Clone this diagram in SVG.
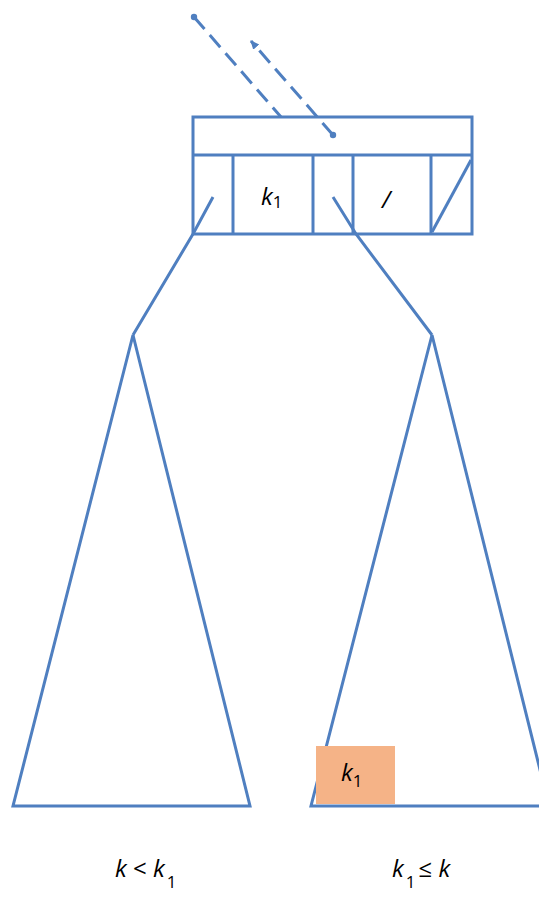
<svg xmlns="http://www.w3.org/2000/svg" width="539" height="900" viewBox="0 0 539 900">
<style>
.ln{fill:none;stroke:#4F7FC0;stroke-width:3;stroke-linejoin:miter}
.ds{fill:none;stroke:#4F7FC0;stroke-width:3;stroke-dasharray:16 8}
.t{font-family:"Open Sans","Liberation Sans",sans-serif;font-size:24px;fill:#000}
.i{font-style:italic}
.s{font-size:17px}
</style>
<defs>
<marker id="dot" markerWidth="8" markerHeight="8" refX="4" refY="4" markerUnits="userSpaceOnUse"><circle cx="4" cy="4" r="3.2" fill="#4F7FC0"/></marker>
<marker id="arr" markerWidth="10" markerHeight="10" refX="8" refY="5" orient="auto" markerUnits="userSpaceOnUse"><path d="M0,1 L9,5 L0,9 Z" fill="#4F7FC0"/></marker>
</defs>
<g id="connectors">
<line class="ds" x1="194" y1="17" x2="281" y2="117" marker-start="url(#dot)"/>
<line class="ds" x1="333" y1="135" x2="251" y2="41" marker-start="url(#dot)" marker-end="url(#arr)"/>
<polyline class="ln" points="213,197 193,234 133,335"/>
<polyline class="ln" points="333,197 356,234 432,335"/>
</g>
<g id="node">
<rect class="ln" x="193" y="117" width="279" height="117" fill="none"/>
<line class="ln" x1="193" y1="155" x2="472" y2="155"/>
<line class="ln" x1="233" y1="155" x2="233" y2="234"/>
<line class="ln" x1="313" y1="155" x2="313" y2="234"/>
<line class="ln" x1="353" y1="155" x2="353" y2="234"/>
<line class="ln" x1="431" y1="155" x2="431" y2="234"/>
<line class="ln" x1="432" y1="232" x2="471" y2="160"/>
<text class="t" x="261" y="205"><tspan class="i">k</tspan><tspan class="s" dy="3">1</tspan></text>
<text class="t i" x="382" y="208">/</text>
</g>
<g id="left-subtree">
<polygon class="ln" points="133,335 13,806 250,806"/>
</g>
<g id="right-subtree">
<polygon class="ln" points="432,335 311,806 549,806"/>
<rect x="316" y="746" width="79" height="58" fill="#F5B387"/>
<text class="t" x="341" y="781"><tspan class="i">k</tspan><tspan class="s" dy="6">1</tspan></text>
</g>
<g id="labels">
<text class="t" x="115" y="877"><tspan class="i">k</tspan> &lt; <tspan class="i">k</tspan><tspan class="s" dx="2" dy="11">1</tspan></text>
<text class="t" x="392" y="877"><tspan class="i">k</tspan><tspan class="s" dx="2" dy="11">1</tspan><tspan dx="3" dy="-11">≤ </tspan><tspan class="i">k</tspan></text>
</g>
</svg>
